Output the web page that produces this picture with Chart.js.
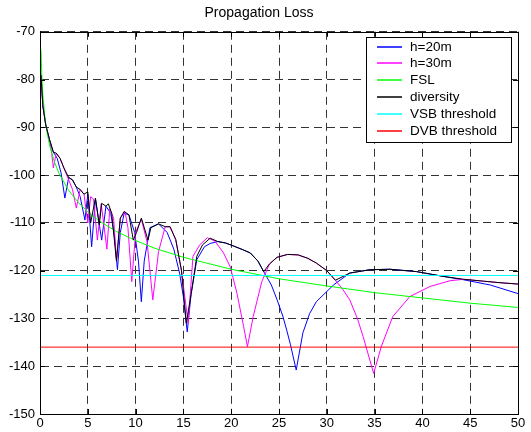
<!DOCTYPE html>
<html>
<head>
<meta charset="utf-8">
<script src="https://cdn.jsdelivr.net/npm/chart.js@4/dist/chart.umd.min.js"></script>
<style>
  html, body { margin: 0; padding: 0; background: #fff; }
  #wrap { width: 531px; height: 432px; }
</style>
</head>
<body>
<div id="wrap"><canvas id="lossChart" width="531" height="432"></canvas></div>
<script>
// axis ticks
const xTicks = [0, 5, 10, 15, 20, 25, 30, 35, 40, 45, 50];
const yTicks = [-150, -140, -130, -120, -110, -100, -90, -80, -70];

// h=20m (blue)
const h20X = [0.1, 0.3, 0.6, 1.0, 1.4, 1.8, 2.2, 2.6, 3.0, 3.4, 3.8, 4.2, 4.7, 5.0, 5.4, 5.8, 6.45, 6.9, 7.4, 7.8, 8.1, 8.4, 8.8, 9.3, 9.9, 10.3, 10.6, 10.9, 11.5, 12.4, 13.3, 14.0, 14.6, 15.0, 15.4, 15.8, 16.4, 17.2, 17.8, 18.6, 19.4, 20.2, 21.2, 22.0, 22.8, 23.4, 24.2, 24.8, 25.4, 25.8, 26.2, 26.8, 27.5, 28.2, 28.9, 30.7, 32.4, 34.5, 36.6, 39.4, 42.2, 44.3, 47.1, 50];
const h20Y = [-79, -85.5, -89.5, -92.6, -95.2, -96.5, -99.5, -104.8, -100.5, -101, -102.5, -104.5, -109.4, -104, -115, -105, -113.6, -106.5, -108, -113, -119.8, -112, -108, -108.3, -112, -118, -126.5, -118, -111, -110.2, -112, -115.5, -120.5, -125.5, -132.8, -125, -117.7, -115, -114.3, -113.9, -114.2, -114.8, -115.6, -116.3, -118, -120.2, -123, -126.1, -129.5, -132.4, -135.5, -140.8, -133, -129, -126.5, -123, -120.5, -119.8, -119.7, -120.2, -121.2, -121.9, -123, -124.8];

// h=30m (magenta)
const h30X = [0.1, 0.3, 0.6, 1.0, 1.2, 1.4, 1.7, 2.1, 2.5, 3.0, 3.4, 3.8, 4.2, 4.6, 5.0, 5.3, 5.6, 6.0, 6.4, 7.0, 7.3, 7.7, 8.0, 8.4, 8.9, 9.2, 9.6, 10.0, 10.6, 11.2, 11.8, 12.4, 13.1, 13.6, 14.2, 14.8, 15.5, 16.0, 16.7, 17.5, 18.3, 19.2, 19.9, 20.6, 21.3, 21.7, 22.3, 23.2, 24.0, 24.8, 25.9, 27.0, 28.0, 28.9, 30.0, 30.9, 31.7, 32.4, 33.2, 33.8, 34.9, 35.7, 36.9, 38.7, 40.8, 42.9, 44.3, 46.4, 48.0, 50];
const h30Y = [-79, -85.5, -89.5, -92.6, -95, -98.5, -95.4, -96.5, -98.5, -101, -103, -106.9, -103, -104, -110, -104.5, -105, -113.6, -106, -115.5, -107, -109, -118, -109, -107.7, -111, -122.3, -112, -109.2, -114, -126.1, -116, -110.8, -110.8, -113.5, -120, -131, -117, -114.6, -113.1, -113.8, -116.3, -119.2, -124.7, -131.7, -135.9, -129.6, -122.3, -118.6, -117.2, -116.6, -116.7, -117.4, -118.4, -120, -122, -124, -126.1, -130, -133.8, -141.5, -135.9, -129.6, -125.4, -123.3, -122.1, -121.8, -122.2, -122.5, -122.8];

// free space loss (green)
const fslX = [0.1, 0.2, 0.3, 0.5, 0.75, 1, 1.5, 2, 3, 4, 5, 6, 7, 8, 10, 12, 15, 20, 25, 30, 35, 40, 45, 50];
const fslY = [-73.7, -79.7, -83.2, -87.7, -91.2, -93.7, -97.2, -99.7, -103.2, -105.7, -107.7, -109.3, -110.6, -111.8, -113.7, -115.3, -117.2, -119.7, -121.7, -123.2, -124.6, -125.7, -126.8, -127.7];

// diversity (black)
const divX = [0.1, 0.3, 0.6, 1.0, 1.4, 1.7, 2.1, 2.5, 3.0, 3.4, 3.8, 4.2, 4.6, 5.0, 5.3, 5.8, 6.2, 6.45, 6.9, 7.15, 7.5, 8.0, 8.4, 8.8, 9.3, 9.76, 10.1, 10.6, 11.3, 11.6, 12.4, 13.1, 13.6, 14.2, 14.8, 15.3, 15.8, 16.4, 17.0, 17.8, 18.6, 19.4, 20.2, 21.2, 22.0, 22.8, 23.4, 24.0, 24.8, 25.9, 27.0, 28.0, 28.9, 30.0, 30.9, 32.4, 34.5, 36.6, 39.4, 42.2, 44.3, 46.4, 48.0, 50];
const divY = [-79, -85.5, -89.5, -92.6, -95.2, -95.4, -96.5, -98.5, -100.5, -101, -102.5, -103, -104, -103.5, -110, -104.8, -110.4, -105.9, -106.5, -106, -108, -118, -109, -107.6, -108.3, -113.6, -112, -109, -113.6, -111, -110.2, -110.8, -110.8, -113.5, -120, -131, -125, -117, -114.6, -113.2, -113.9, -114.2, -114.8, -115.6, -116.3, -118, -120.2, -118.6, -117.2, -116.6, -116.7, -117.4, -118.4, -120, -122, -120.5, -119.8, -119.7, -120.2, -121.2, -121.8, -122.2, -122.5, -122.8];

// thresholds
const vsbX = [0, 50];
const vsbY = [-121, -121];
const dvbX = [0, 50];
const dvbY = [-136, -136];

function pts(xs, ys) {
  return xs.map((x, i) => ({ x: x, y: ys[i] }));
}

const FONT = "'Liberation Sans', Arial, sans-serif";

function line(label, xs, ys, color, order) {
  return {
    label: label,
    data: pts(xs, ys),
    borderColor: color,
    backgroundColor: color,
    borderWidth: 1,
    pointRadius: 0,
    tension: 0,
    fill: false,
    order: order,
  };
}

// box, inward ticks and legend like the matlab figure
const matlabFrame = {
  id: "matlabFrame",
  afterDraw(chart) {
    const { ctx, chartArea: a, scales } = chart;
    ctx.save();
    ctx.setLineDash([]);
    ctx.strokeStyle = "#000";
    ctx.lineWidth = 1;
    ctx.strokeRect(Math.round(a.left) + 0.5, Math.round(a.top) + 0.5, Math.round(a.right - a.left), Math.round(a.bottom - a.top));
    ctx.beginPath();
    xTicks.forEach((v) => {
      const px = Math.round(scales.x.getPixelForValue(v)) + 0.5;
      ctx.moveTo(px, a.bottom); ctx.lineTo(px, a.bottom - 5);
      ctx.moveTo(px, a.top); ctx.lineTo(px, a.top + 5);
    });
    yTicks.forEach((v) => {
      const py = Math.round(scales.y.getPixelForValue(v)) + 0.5;
      ctx.moveTo(a.left, py); ctx.lineTo(a.left + 5, py);
      ctx.moveTo(a.right, py); ctx.lineTo(a.right - 5, py);
    });
    ctx.stroke();

    // legend box
    const lx = 366, ly = 37, lw = 145, lh = 105;
    ctx.fillStyle = "#fff";
    ctx.fillRect(lx, ly, lw, lh);
    ctx.strokeStyle = "#000";
    ctx.strokeRect(lx + 0.5, ly + 0.5, lw, lh);
    ctx.font = "13.5px " + FONT;
    ctx.textBaseline = "middle";
    ctx.textAlign = "left";
    chart.data.datasets.forEach((ds, i) => {
      const y = Math.round(ly + 9.5 + i * 16.8);
      ctx.beginPath();
      ctx.strokeStyle = ds.borderColor;
      ctx.lineWidth = 1.5;
      ctx.moveTo(377, y); ctx.lineTo(402, y);
      ctx.stroke();
      ctx.fillStyle = "#000";
      ctx.fillText(ds.label, 410, y);
    });
    ctx.restore();
  },
};

const chart = new Chart(document.getElementById("lossChart"), {
  type: "line",
  data: {
    datasets: [
      line("h=20m", h20X, h20Y, "#0000ff", 5),
      line("h=30m", h30X, h30Y, "#ff00ff", 4),
      line("FSL", fslX, fslY, "#00ff00", 3),
      line("diversity", divX, divY, "#000000", 2),
      line("VSB threshold", vsbX, vsbY, "#00ffff", 1),
      line("DVB threshold", dvbX, dvbY, "#ff0000", 0),
    ],
  },
  options: {
    responsive: false,
    animation: false,
    layout: { padding: { left: 0, right: 13, top: 0, bottom: 0 } },
    plugins: {
      legend: { display: false },
      tooltip: { enabled: false },
      title: {
        display: true,
        text: "Propagation Loss",
        color: "#000",
        font: { family: FONT, size: 14, weight: "normal", lineHeight: 1.2 },
        padding: { top: 5, bottom: 10 },
      },
    },
    scales: {
      x: {
        type: "linear",
        min: 0,
        max: 50,
        afterBuildTicks: (s) => { s.ticks = xTicks.map((v) => ({ value: v })); },
        afterFit: (s) => { s.height = 18; },
        ticks: { color: "#000", font: { family: FONT, size: 13 }, padding: 2, maxRotation: 0 },
        grid: { color: "#333", drawTicks: false },
        border: { color: "#000", dash: [8, 5] },
      },
      y: {
        type: "linear",
        min: -150,
        max: -70,
        afterBuildTicks: (s) => { s.ticks = yTicks.map((v) => ({ value: v })); },
        afterFit: (s) => { s.width = 40; },
        ticks: { color: "#000", font: { family: FONT, size: 13 }, padding: 5 },
        grid: { color: "#333", drawTicks: false },
        border: { color: "#000", dash: [8, 5] },
      },
    },
  },
  plugins: [matlabFrame],
});
</script>
</body>
</html>
